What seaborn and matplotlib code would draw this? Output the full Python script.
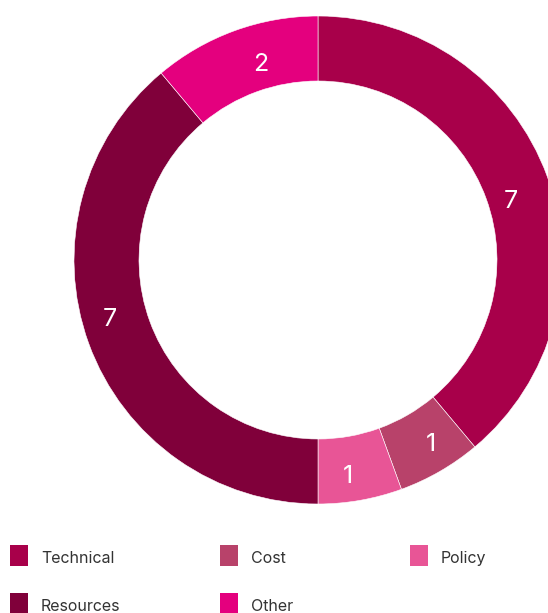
import numpy as np
import matplotlib
matplotlib.use("Agg")
import matplotlib.pyplot as plt
from matplotlib.patches import Rectangle
import seaborn as sns

categories = ["Technical", "Cost", "Policy", "Resources", "Other"]
counts = [7, 1, 1, 7, 2]
colors = ["#A8004A", "#B8426A", "#E85596", "#80003A", "#E4007E"]

# Small per-slice nudges (pixels, right/down) for the value labels
label_nudge = [(-6, 11), (7, -1), (-7, 6), (-9, -15), (15, 1)]

sns.set_theme(style="white")
plt.rcParams["font.family"] = ["Inter", "DejaVu Sans"]

W, H = 548, 613
PX2PT = 72 / 100
fig = plt.figure(figsize=(W / 100, H / 100), dpi=100)
fig.patch.set_facecolor("white")

# Donut: centre (318, 260) px, outer radius 244 px, inner radius 179 px
cx, cy, r_out, r_in = 318, 260, 244, 179
ax = fig.add_axes([(cx - r_out) / W, (H - cy - r_out) / H, 2 * r_out / W, 2 * r_out / H])
ring = (r_out - r_in) / r_out
palette = sns.color_palette(colors)
wedges, _ = ax.pie(counts, colors=palette, startangle=90, counterclock=False,
                   radius=1.0, wedgeprops=dict(width=ring, edgecolor="white", linewidth=0.4))
ax.set_xlim(-1, 1)
ax.set_ylim(-1, 1)
ax.set_aspect("equal")
ax.axis("off")

mid_r = 1 - ring / 2
digit_h = 18.2  # rendered digit height in px at 18 pt
for w, v, (ndx, ndy) in zip(wedges, counts, label_nudge):
    ang = np.deg2rad((w.theta1 + w.theta2) / 2)
    ax.annotate(str(v), xy=(mid_r * np.cos(ang), mid_r * np.sin(ang)),
                xytext=(ndx * PX2PT, (-ndy - digit_h / 2) * PX2PT),
                textcoords="offset points", color="white", fontsize=18,
                ha="center", va="baseline")

# Legend laid out in a three-column grid
col_x = [10, 220, 410]
row_y = [555.5, 603.5]
for i, (name, c) in enumerate(zip(categories, palette)):
    x = col_x[i % 3]
    y = row_y[i // 3]
    fig.add_artist(Rectangle((x / W, (H - y - 10.5) / H), 18 / W, 21 / H,
                             transform=fig.transFigure, facecolor=c, edgecolor="none"))
    fig.text((x + 31) / W, (H - y - 7.5) / H, name, fontsize=11.5, color="#333333",
             ha="left", va="baseline")

fig.savefig("out.png", dpi=100, facecolor="white")
